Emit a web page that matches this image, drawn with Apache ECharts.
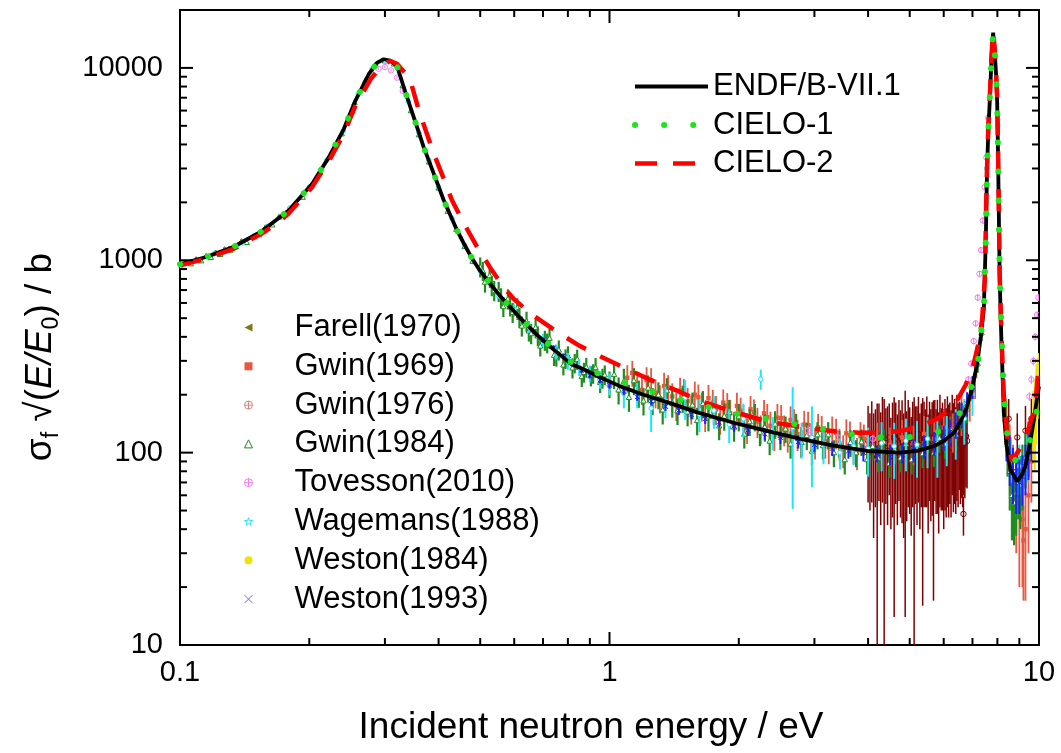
<!DOCTYPE html>
<html><head><meta charset="utf-8">
<script src="https://cdn.jsdelivr.net/npm/echarts@6/dist/echarts.min.js"></script>
<style>html,body{margin:0;padding:0;background:#fff}#c{width:1061px;height:753px}</style>
</head><body><div id="c"></div>
<script>
// ---------- evaluated curves [E (eV), sigma_f*sqrt(E/E0) (b)] ----------
const ENDF = [[0.100,953],[0.115,1040],[0.133,1172],[0.154,1403],[0.179,1815],[0.203,2495],[0.222,3427],[0.2406,4808],[0.256,6745],[0.275,9270],[0.288,10650],[0.298,11090],[0.309,10900],[0.320,10240],[0.335,7450],[0.3534,5210],[0.3695,3865],[0.390,2813],[0.4114,2046],[0.4418,1429],[0.46,1200],[0.4789,1020],[0.50,880],[0.5236,770],[0.557,650],[0.62,500],[0.679,408],[0.745,340],[0.811,291],[0.88,268],[0.953,246],[1.061,221],[1.2,200],[1.362,183],[1.6,162],[1.947,143],[2.35,129],[2.785,118],[3.3,109],[3.98,102],[4.76,100],[5.2,102],[5.69,108],[6.0,115],[6.33,126.5],[6.6,148],[6.8,174],[7.0,220],[7.18,291],[7.32,400],[7.44,560],[7.52,1300],[7.57,3040],[7.63,5000],[7.68,6745],[7.75,11000],[7.82,15240],[7.88,12500],[7.95,9000],[7.99,6745],[8.03,3500],[8.07,1500],[8.10,800],[8.17,400],[8.28,161],[8.40,110],[8.58,81.6],[8.89,71],[9.10,76],[9.30,85],[9.50,108],[9.73,148],[9.87,185],[10.0,221]];
const CIELO1 = [[0.100,953],[0.115,1040],[0.133,1172],[0.154,1403],[0.179,1815],[0.203,2495],[0.222,3427],[0.2406,4808],[0.256,6745],[0.275,9270],[0.288,10650],[0.298,11090],[0.309,10900],[0.320,10240],[0.335,7450],[0.3534,5210],[0.3695,3865],[0.390,2813],[0.4114,2046],[0.4418,1429],[0.46,1200],[0.4789,1020],[0.50,880],[0.5236,770],[0.557,650],[0.62,500],[0.679,410],[0.745,344],[0.811,297],[0.88,274],[0.953,255],[1.04,238],[1.2,215],[1.4,193],[1.63,177],[1.9,162],[2.16,154],[2.5,145],[2.88,137],[3.4,128],[3.91,122],[4.5,119],[5.2,121],[5.6,125],[6.0,131.5],[6.4,148],[6.8,185],[7.0,230],[7.18,270],[7.32,410],[7.44,570],[7.52,1300],[7.57,3040],[7.63,5000],[7.68,6745],[7.75,11000],[7.82,15240],[7.88,12500],[7.95,9000],[7.99,6745],[8.03,3500],[8.07,1500],[8.10,850],[8.17,450],[8.28,200],[8.40,135],[8.50,108],[8.73,92],[9.0,90],[9.18,92],[9.40,105],[9.64,126.5],[9.85,160],[10.0,188]];
const CIELO2 = [[0.100,940],[0.115,1020],[0.133,1145],[0.154,1365],[0.168,1549],[0.179,1750],[0.203,2400],[0.222,3280],[0.2406,4530],[0.256,6350],[0.278,8740],[0.295,10350],[0.309,10870],[0.320,10500],[0.333,9500],[0.344,8570],[0.360,5980],[0.375,4600],[0.39,3573],[0.41,2700],[0.43,2046],[0.46,1530],[0.492,1172],[0.53,900],[0.566,728],[0.6,625],[0.66,522],[0.754,425],[0.85,360],[0.953,316],[1.1,272],[1.25,238],[1.45,208],[1.63,185],[1.95,163],[2.33,145],[2.8,136],[3.33,129],[3.8,127],[4.34,127.6],[4.8,130],[5.28,137],[5.8,150],[6.33,174],[6.75,225],[7.05,291],[7.25,380],[7.37,490],[7.48,800],[7.55,2500],[7.62,5000],[7.68,7000],[7.75,11500],[7.82,15500],[7.88,12800],[7.95,9200],[7.99,7000],[8.03,3700],[8.07,1600],[8.10,850],[8.17,430],[8.28,200],[8.45,115],[8.65,90],[8.9,100],[9.15,110],[9.4,126],[9.6,150],[9.73,160],[9.83,188],[9.92,240],[10.0,300]];

// ---------- experimental data [E, value, uncertainty] ----------
const FARELL1970 = [[0.11,1010,20],[0.13,1160,25],[0.15,1350,30],[0.20,2420,50],[0.45,1300,40],[0.60,540,30]];
const GWIN1969 = [[1.10,245,40],[1.13,260,40],[1.16,225,38],[1.19,212,35],[1.22,238,40],[1.25,237,38],[1.28,205,35],[1.31,192,32],[1.34,222,38],[1.37,218,35],[1.40,196,33],[1.43,176,30],[1.46,210,35],[1.49,207,34],[1.52,185,32],[1.55,169,29],[1.58,200,34],[1.61,194,32],[1.64,175,30],[1.67,155,27],[1.70,192,33],[1.74,182,30],[1.77,168,29],[1.81,150,26],[1.84,182,31],[1.88,175,29],[1.91,160,28],[1.95,139,24],[1.98,175,30],[2.02,165,28],[2.05,150,27],[2.09,135,24],[2.13,168,29],[2.17,162,27],[2.21,145,26],[2.25,133,23],[2.29,160,28],[2.33,153,26],[2.37,138,25],[2.42,124,22],[2.46,152,27],[2.51,151,26],[2.55,132,24],[2.60,122,22],[2.64,148,26],[2.69,143,25],[2.74,125,23],[2.79,115,21],[2.84,140,25],[2.90,139,24],[2.95,120,22],[3.01,113,21],[3.06,135,24],[3.12,132,23],[3.18,115,22],[3.24,107,20],[3.30,130,24],[3.37,127,23],[3.43,112,21],[3.50,103,20],[3.56,126,23],[3.63,123,22],[3.70,108,21],[3.77,100,19],[3.84,122,22],[3.91,118,22],[3.98,106,20],[4.2,118,25],[4.5,110,25],[4.8,120,28],[5.1,112,26],[5.4,125,30],[5.7,118,28],[6.0,135,32],[6.3,130,30],[6.6,160,38],[6.9,190,45],[7.1,250,60],[8.4,140,45],[8.55,100,40],[8.7,75,35],[8.85,60,30],[9.0,55,35],[9.15,45,25],[9.2,35,18],[9.3,40,23],[9.45,60,30],[9.6,90,35],[9.75,130,40]];
const GWIN1976 = [[4.00,115,60],[4.04,105,55],[4.08,120,65],[4.12,98,62],[4.16,110,58],[4.20,95,85],[4.24,118,62],[4.28,102,60],[4.32,125,70],[4.36,100,90],[4.40,112,58],[4.44,108,66],[4.48,120,60],[4.52,96,56],[4.56,114,68],[4.60,104,90],[4.64,118,64],[4.68,100,58],[4.72,122,66],[4.76,106,60],[4.80,115,72],[4.84,98,62],[4.88,112,98],[4.92,104,60],[4.96,120,68],[5.00,110,62],[5.04,95,58],[5.08,118,66],[5.12,102,92],[5.16,114,60],[5.20,108,66],[5.24,125,70],[5.28,100,60],[5.32,116,64],[5.36,104,88],[5.40,118,66],[5.44,110,58],[5.48,124,72],[5.52,98,60],[5.56,120,64],[5.60,106,62],[5.64,115,68],[5.68,102,85],[5.72,122,66],[5.76,108,60],[5.80,118,70],[5.84,100,62],[5.88,126,74],[5.92,110,60],[5.96,116,66],[6.00,104,64],[6.04,120,70],[6.08,108,62],[6.12,124,72],[6.16,112,66],[6.20,118,64],[6.24,106,60],[6.28,130,70],[6.32,115,66],[6.36,122,68],[6.40,110,62],[6.44,128,72],[6.48,116,64],[6.52,124,60],[6.56,112,58],[6.60,120,62],[6.64,108,56],[6.67,48,11],[6.68,118,58],[6.72,112,54],[6.76,122,56],[6.80,115,50],[8.5,150,40],[8.9,120,40],[9.3,130,45],[9.6,150,40]];
const GWIN1984 = [[0.100,930,25],[0.103,975,25],[0.106,960,25],[0.109,1010,25],[0.112,995,25],[0.115,1050,28],[0.118,1035,28],[0.121,1095,28],[0.124,1075,30],[0.127,1140,30],[0.131,1130,30],[0.135,1180,30],[0.139,1255,32],[0.143,1240,32],[0.148,1330,35],[0.153,1370,35],[0.158,1480,38],[0.164,1530,38],[0.170,1680,40],[0.177,1760,42],[0.185,1960,45],[0.193,2130,50],[0.202,2450,55],[0.212,2880,60],[0.224,3500,70],[0.238,4550,90],[0.255,6600,120],[0.270,8600,150],[0.285,10400,200],[0.300,10900,200],[0.315,10500,200],[0.330,8100,150],[0.345,6000,120],[0.360,4500,100],[0.380,3250,80],[0.400,2380,60],[0.420,1800,50],[0.440,1450,40],[0.460,1180,35],[0.480,990,35],
 [0.50,924,110],[0.507,880,100],[0.513,771,92],[0.526,832,100],[0.532,740,90],[0.539,696,84],[0.552,690,83],[0.559,640,75],[0.566,575,69],[0.580,630,76],[0.587,580,70],[0.595,536,64],[0.610,567,68],[0.617,505,60],[0.625,456,55],[0.641,482,58],[0.649,430,52],[0.657,416,50],[0.673,448,54],[0.681,405,48],[0.690,359,43],[0.707,384,46],[0.716,372,44],[0.725,394,47],[0.743,321,39],[0.752,318,38],[0.762,342,41],[0.781,286,34],[0.790,308,36],[0.800,319,38],[0.820,276,33],[0.830,292,34],[0.841,306,37],[0.862,249,30],[0.872,262,31],[0.883,278,33],[0.905,251,30],[0.916,258,30],[0.928,277,33],[0.951,232,28],[0.963,244,29],[0.975,254,30],
 [1.00,228,36],[1.025,255,41],[1.05,212,34],[1.08,235,38],[1.11,194,31],[1.14,237,38],[1.17,204,33],[1.20,186,30],[1.23,217,35],[1.26,187,30],[1.30,200,32],[1.33,167,27],[1.36,210,34],[1.40,181,29],[1.44,165,26],[1.48,192,31],[1.52,163,26],[1.56,177,28],[1.60,147,24],[1.65,180,29],[1.70,154,25],[1.75,165,26],[1.80,138,22],[1.85,155,25],[1.90,162,26],[1.95,136,22],[2.00,154,25],[2.06,125,20],[2.12,145,23],[2.18,154,25],[2.24,128,20],[2.30,136,22],[2.36,115,18],[2.43,141,23],[2.50,123,20],[2.57,133,21],[2.64,111,18],[2.72,137,22],[2.80,113,18],[2.88,123,20],[2.96,102,16],[3.05,124,20],[3.14,109,17],[3.23,124,20],[3.33,100,16],[3.43,112,18],[3.53,92,15],[3.64,113,18],[3.75,100,16],[3.86,114,18],[3.98,92,15],[4.10,108,17],[4.22,94,15],[4.35,114,18],[4.48,88,14],[4.62,104,17],[4.76,94,15],[4.90,111,18],[5.05,92,15],[5.20,109,17],[5.36,99,16],[5.52,119,19],[5.69,100,16],[5.86,119,19],[6.04,111,18],[6.22,133,21],[6.41,124,20],[6.60,155,25],[6.80,169,27],
 [7.0,215,25],[7.2,290,30],[7.35,420,40],[8.35,150,40],[8.45,110,35],[8.55,80,30],[8.65,60,25],[8.75,55,22],[8.85,62,25],[8.95,70,25],[9.05,68,28],[9.15,80,30],[9.3,95,30],[9.45,110,35]];
const TOVESSON2010 = [[0.27,8200,150],[0.28,9300,150],[0.29,9900,150],[0.30,10100,150],[0.31,9700,150],[0.32,8900,150],[0.33,7600,150],[2.9,130,8],[3.4,120,8],[4.1,118,8],[6.85,240,10],[6.95,290,12],[7.05,380,15],[7.12,470,18],[7.20,640,25],[7.27,850,30],[7.33,1130,40],[7.40,1610,60],[7.47,2400,80],[7.54,3420,120],[7.62,5500,200],[9.50,196,10],[9.60,240,12],[9.70,300,15],[9.80,400,18],[9.90,520,22],[9.97,640,25]];
const WAGEMANS1988 = [[0.12,1080,20],[0.14,1230,25],[0.16,1500,30],[0.18,1870,35],[0.20,2400,45],[0.22,3330,60],[0.24,4700,80],[0.26,7300,120],[0.28,9900,150],[0.30,10900,180],[0.32,10100,160],[0.34,6700,120],[0.36,4600,90],[0.38,3300,70],[0.40,2400,50],[0.43,1650,40],[0.46,1200,35],[0.50,880,30],[0.55,660,30],[0.60,555,35],[0.65,450,30],[0.70,385,30],[0.75,335,30],[0.80,300,30],[0.85,278,28],[0.90,258,26],[0.95,240,25],[1.00,228,30],[1.08,205,35],[1.16,200,30],[1.25,170,42],[1.35,186,35],[1.50,193,45],[1.62,158,30],[1.75,165,32],[1.90,140,28],[2.05,150,30],[2.25,241,29],[2.40,128,25],[2.67,135,84],[2.80,118,25],[2.96,120,54],[3.15,112,25],[3.44,100,18],[3.70,108,22],[4.00,105,30],[4.30,112,32],[4.60,108,35],[4.90,115,35],[5.20,110,36],[5.50,118,35],[5.80,112,38],[6.10,120,35],[6.40,130,38],[6.70,150,40],[7.00,200,45],[7.55,3000,300],[8.02,5000,500],[8.15,700,100],[8.60,95,25],[9.00,85,25],[9.40,100,30]];
const WESTON1984 = [[9.70,150,60],[9.78,160,80],[9.86,200,90],[9.93,230,80],[9.98,260,70]];
const WESTON1993 = [[0.70,385,12],[0.74,350,11],[0.78,318,10],[0.82,290,10],[0.86,268,9],[0.90,252,9],[0.95,238,9],[1.00,224,9],[1.08,208,9],[1.16,195,9],[1.25,185,9],[1.35,174,9],[1.45,166,9],[1.55,158,9],[1.67,150,9],[1.80,144,9],[1.95,137,9],[2.10,131,9],[2.30,125,9],[2.50,120,9],[2.75,114,9],[3.00,110,9],[3.30,105,9],[3.60,102,9],[3.90,100,10],[4.20,99,10],[4.50,98,12],[4.80,100,12],[5.10,103,14],[5.40,108,15],[5.70,112,16],[6.00,120,18],[6.20,128,20],[6.40,140,22],[6.60,158,24],[6.80,180,26],[7.00,220,30],[8.40,120,30],[8.55,95,28],[8.70,80,26],[8.85,72,24],[9.00,70,22],[9.15,75,22],[9.30,85,25],[9.45,100,28],[9.60,120,30]];

// ---------- axis ticks ----------
const X_MAJOR = [0.1, 1, 10];
const X_MINOR = [0.2,0.3,0.4,0.5,0.6,0.7,0.8,0.9,2,3,4,5,6,7,8,9];
const Y_MAJOR = [10, 100, 1000, 10000];
const Y_MINOR = [20,30,40,50,60,70,80,90,200,300,400,500,600,700,800,900,2000,3000,4000,5000,6000,7000,8000,9000];
const X_MIN = 0.1, X_MAX = 10, Y_MIN = 10, Y_MAX = 20000;

const FONT = '"Liberation Sans", Arial, Helvetica, sans-serif';

function markerEl(kind, c, color) {
  const x = c[0], y = c[1], r = 2.2;
  switch (kind) {
    case 'sq': return {type:'rect', shape:{x:x-r, y:y-r, width:2*r, height:2*r}, style:{fill:color}};
    case 'tri': return {type:'polygon', shape:{points:[[x,y-r-0.5],[x+r+0.5,y+r],[x-r-0.5,y+r]]}, style:{fill:'#fff', stroke:color, lineWidth:1}};
    case 'ltri': return {type:'polygon', shape:{points:[[x-r,y],[x+r,y-r],[x+r,y+r]]}, style:{fill:color}};
    case 'cplus': return {type:'circle', shape:{cx:x, cy:y, r:r+0.5}, style:{fill:'none', stroke:color, lineWidth:1}};
    case 'dot': return {type:'circle', shape:{cx:x, cy:y, r:r}, style:{fill:color}};
    case 'star': return {type:'circle', shape:{cx:x, cy:y, r:r}, style:{fill:'#fff', stroke:color, lineWidth:1}};
    default: return {type:'polyline', shape:{points:[[x-r,y-r],[x+r,y+r],[x,y],[x+r,y-r],[x-r,y+r]]}, style:{stroke:color, lineWidth:1, fill:null}};
  }
}

function expSeries(name, data, color, kind, lw) {
  return {
    type:'custom', name, coordinateSystem:'cartesian2d', clip:true, data,
    encode:{x:0, y:1}, itemStyle:{color}, z:2, silent:true,
    renderItem(params, api) {
      const E = api.value(0), v = api.value(1), d = api.value(2);
      const top = api.coord([E, v + d]);
      const bot = api.coord([E, Math.max(v - d, 1)]);
      const c = api.coord([E, v]);
      return {type:'group', children:[
        {type:'line', shape:{x1:top[0], y1:top[1], x2:bot[0], y2:bot[1]}, style:{stroke:color, lineWidth:lw}},
        markerEl(kind, c, color)
      ]};
    }
  };
}

const X_TICKS = X_MAJOR.map(v => [v, Y_MIN, 1]).concat(X_MINOR.map(v => [v, Y_MIN, 0]));
const Y_TICKS = Y_MAJOR.map(v => [X_MIN, v, 1]).concat(Y_MINOR.map(v => [X_MIN, v, 0]));

function tickStyle() { return {stroke:'#000', lineWidth:2}; }

const powLabel = v => {
  const l = Math.log10(v), e = Math.round(l);
  if (Math.abs(l - e) > 1e-6) return '';
  return String(parseFloat(Math.pow(10, e).toFixed(Math.max(0, -e))));
};

const C_G69 = '#e8573f', C_G76 = '#800000', C_G84 = '#1e8c1e', C_TOV = '#f07cf0',
      C_WAG = '#19e6ff', C_W84 = '#f2e200', C_W93 = '#1f1fff', C_FAR = '#7a7a10';

const ICON_CIRCLE_PLUS = 'path://M0,5A5,5,0,1,1,10,5A5,5,0,1,1,0,5ZM5,0L5,10M0,5L10,5';
const HIDE = {opacity:0};
const option = {
  animation:false,
  backgroundColor:'#fff',
  grid:{left:180, right:22, top:10, bottom:108, show:true, borderColor:'#000', borderWidth:2, backgroundColor:'transparent'},
  xAxis:{type:'log', min:X_MIN, max:X_MAX, logBase:10, splitNumber:2,
    axisLine:{show:false}, axisTick:{show:false}, splitLine:{show:false},
    axisLabel:{formatter:powLabel, fontSize:29, fontFamily:FONT, color:'#000', margin:13, showMinLabel:true, showMaxLabel:true}},
  yAxis:{type:'log', min:Y_MIN, max:Y_MAX, logBase:10, splitNumber:3,
    axisLine:{show:false}, axisTick:{show:false}, splitLine:{show:false},
    axisLabel:{formatter:powLabel, fontSize:29, fontFamily:FONT, color:'#000', margin:17, showMinLabel:true, showMaxLabel:false}},
  legend:[
    {data:[{name:'ENDF/B-VII.1', itemStyle:HIDE},{name:'CIELO-1', itemStyle:HIDE},{name:'CIELO-2', itemStyle:HIDE}],
     orient:'vertical', left:627, top:66, itemWidth:73, itemHeight:14, itemGap:7.5,
     lineStyle:{width:'inherit', type:'inherit', cap:'inherit'},
     selectedMode:false, textStyle:{fontSize:31, fontFamily:FONT, color:'#000', lineHeight:30}},
    {data:[
      {name:'Farell(1970)', icon:'path://M10,0L10,10L0,5Z', itemStyle:{color:C_FAR}},
      {name:'Gwin(1969)', icon:'path://M0,0L10,0L10,10L0,10Z', itemStyle:{color:C_G69}},
      {name:'Gwin(1976)', icon:ICON_CIRCLE_PLUS, itemStyle:{color:'none', borderColor:'#c98a8a', borderWidth:1}},
      {name:'Gwin(1984)', icon:'path://M5,0L10,10L0,10Z', itemStyle:{color:'none', borderColor:C_G84, borderWidth:1}},
      {name:'Tovesson(2010)', icon:ICON_CIRCLE_PLUS, itemStyle:{color:'none', borderColor:C_TOV, borderWidth:1}},
      {name:'Wagemans(1988)', icon:'path://M5,0L6.2,3.6L10,3.6L6.9,5.9L8.1,9.5L5,7.3L1.9,9.5L3.1,5.9L0,3.6L3.8,3.6Z', itemStyle:{color:'none', borderColor:C_WAG, borderWidth:1}},
      {name:'Weston(1984)', icon:'path://M0,5A5,5,0,1,1,10,5A5,5,0,1,1,0,5Z', itemStyle:{color:C_W84}},
      {name:'Weston(1993)', icon:'path://M0,0L10,10M10,0L0,10', itemStyle:{color:'none', borderColor:'#6a6aff', borderWidth:1}}
     ], orient:'vertical', left:237, top:307, itemWidth:8, itemHeight:8, itemGap:7.8,
     selectedMode:false, textStyle:{fontSize:31, fontFamily:FONT, color:'#000', lineHeight:30, padding:[0,0,0,37]}}
  ],
  graphic:[
    {type:'text', x:591, y:728, silent:true, style:{text:'Incident neutron energy / eV', font:'37px ' + FONT, fill:'#000', align:'center', verticalAlign:'middle'}},
    {type:'text', x:41, y:357, rotation:Math.PI/2, silent:true, style:{
      text:'{a|σ}{s|f}{a| √(}{i|E/E}{s|0}{a|) / b}', align:'center', verticalAlign:'middle', fill:'#000',
      rich:{
        a:{fontSize:37, fontFamily:FONT, lineHeight:44, fill:'#000'},
        i:{fontSize:37, fontFamily:FONT, fontStyle:'italic', lineHeight:44, fill:'#000'},
        s:{fontSize:23, fontFamily:FONT, lineHeight:22, verticalAlign:'bottom', fill:'#000'}
      }}}
  ],
  series:[
    expSeries('Gwin(1976)', GWIN1976, C_G76, 'cplus', 1.5),
    expSeries('Gwin(1969)', GWIN1969, C_G69, 'sq', 1.8),
    expSeries('Gwin(1984)', GWIN1984, C_G84, 'tri', 2.2),
    expSeries('Wagemans(1988)', WAGEMANS1988, C_WAG, 'star', 2),
    expSeries('Weston(1993)', WESTON1993, C_W93, 'x', 2),
    expSeries('Weston(1984)', WESTON1984, C_W84, 'dot', 2),
    expSeries('Tovesson(2010)', TOVESSON2010, C_TOV, 'cplus', 1.2),
    expSeries('Farell(1970)', FARELL1970, C_FAR, 'ltri', 1.2),
    {type:'line', name:'ENDF/B-VII.1', data:ENDF, symbol:'none', showSymbol:false, z:5, clip:true,
     lineStyle:{color:'#000', width:3.8}, itemStyle:{color:'#000'}},
    {type:'line', name:'CIELO-2', data:CIELO2, symbol:'none', showSymbol:false, z:6, clip:true,
     lineStyle:{color:'#ff0000', width:4.5, type:[22,16]}, itemStyle:{color:'#ff0000'}},
    {type:'line', name:'CIELO-1', data:CIELO1, symbol:'none', showSymbol:false, z:7, clip:true,
     lineStyle:{color:'#1fe31f', width:6, type:[0.1,29], cap:'round'}, itemStyle:{color:'#1fe31f'}},
    {type:'custom', name:'xticks', coordinateSystem:'cartesian2d', clip:false, silent:true, z:10, data:X_TICKS,
     renderItem(params, api) {
       const v = api.value(0), L = api.value(2) ? 13 : 7;
       const b = api.coord([v, Y_MIN]), t = api.coord([v, Y_MAX]);
       return {type:'group', children:[
         {type:'line', shape:{x1:b[0], y1:b[1], x2:b[0], y2:b[1]-L}, style:tickStyle()},
         {type:'line', shape:{x1:t[0], y1:t[1], x2:t[0], y2:t[1]+L}, style:tickStyle()}]};
     }},
    {type:'custom', name:'yticks', coordinateSystem:'cartesian2d', clip:false, silent:true, z:10, data:Y_TICKS,
     renderItem(params, api) {
       const v = api.value(1), L = api.value(2) ? 13 : 7;
       const l = api.coord([X_MIN, v]), r = api.coord([X_MAX, v]);
       return {type:'group', children:[
         {type:'line', shape:{x1:l[0], y1:l[1], x2:l[0]+L, y2:l[1]}, style:tickStyle()},
         {type:'line', shape:{x1:r[0], y1:r[1], x2:r[0]-L, y2:r[1]}, style:tickStyle()}]};
     }}
  ]
};
const chart = echarts.init(document.getElementById('c'), null, {renderer:'canvas'});
chart.setOption(option);
</script></body></html>
